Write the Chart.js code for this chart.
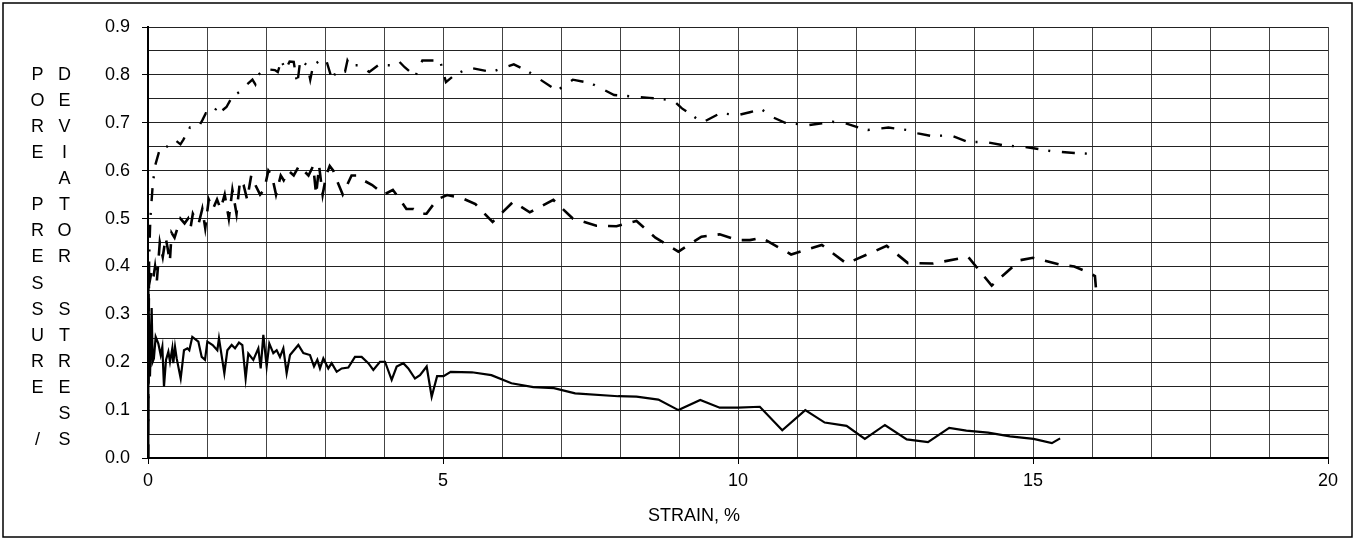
<!DOCTYPE html>
<html>
<head>
<meta charset="utf-8">
<script src="https://cdn.jsdelivr.net/npm/chart.js@4.4.1/dist/chart.umd.min.js"></script>
<style>
  html, body { margin: 0; padding: 0; background: #fff; }
  #wrap { width: 1355px; height: 540px; position: relative; }
</style>
</head>
<body>
<div id="wrap"><canvas id="c" width="1355" height="540"></canvas></div>
<script>
// Axis ranges and tick spacing
const xMin = 0, xMax = 20, xGridStep = 1, xLabelEvery = 5;
const yMin = 0, yMax = 0.9, yGridStep = 0.05, yLabelEvery = 0.1;

// Axis titles
const xTitle = 'STRAIN, %';
const yTitleLeft = ['P','O','R','E','','P','R','E','S','S','U','R','E','','/'];
const yTitleRight = ['D','E','V','I','A','T','O','R','','S','T','R','E','S','S'];

// Dash-dot curve (upper)
const strainDashDot = [0, 0.02, 0.04, 0.08, 0.12, 0.2, 0.32, 0.45, 0.55, 0.6, 0.71, 0.85, 0.92, 0.98, 1.1, 1.2, 1.25, 1.33, 1.43, 1.56, 1.67, 1.77, 1.82, 1.87, 1.98, 2.15, 2.2, 2.26, 2.33, 2.4, 2.47, 2.53, 2.58, 2.7, 2.75, 2.8, 2.97, 3.03, 3.12, 3.2, 3.34, 3.38, 3.42, 3.6, 3.75, 3.9, 4.1, 4.24, 4.35, 4.53, 4.65, 4.75, 4.95, 5.05, 5.2, 5.45, 5.82, 6.2, 6.42, 6.93, 7.2, 7.5, 7.9, 8.5, 8.9, 9.05, 9.24, 9.39, 9.7, 10.0, 10.2, 10.4, 10.58, 10.8, 11.19, 11.6, 11.8, 12.05, 12.2, 12.55, 12.86, 13.05, 13.29, 13.6, 13.9, 14.2, 14.5, 14.9, 15.3, 15.7, 15.99];
const stressDashDot = [0, 0.42, 0.50, 0.57, 0.61, 0.645, 0.65, 0.665, 0.655, 0.665, 0.69, 0.69, 0.705, 0.72, 0.72, 0.737, 0.725, 0.733, 0.755, 0.765, 0.779, 0.79, 0.78, 0.80, 0.812, 0.81, 0.806, 0.83, 0.81, 0.828, 0.827, 0.78, 0.83, 0.82, 0.79, 0.82, 0.835, 0.827, 0.79, 0.81, 0.807, 0.83, 0.82, 0.82, 0.806, 0.82, 0.82, 0.83, 0.816, 0.797, 0.83, 0.83, 0.83, 0.785, 0.80, 0.815, 0.806, 0.822, 0.809, 0.767, 0.79, 0.783, 0.758, 0.752, 0.747, 0.73, 0.714, 0.70, 0.72, 0.716, 0.722, 0.728, 0.712, 0.70, 0.695, 0.702, 0.70, 0.69, 0.685, 0.69, 0.685, 0.678, 0.672, 0.674, 0.66, 0.66, 0.653, 0.649, 0.641, 0.637, 0.635];

// Dashed curve (middle)
const strainDashed = [0, 0.01, 0.03, 0.06, 0.09, 0.12, 0.15, 0.2, 0.25, 0.3, 0.33, 0.37, 0.4, 0.45, 0.5, 0.55, 0.62, 0.68, 0.72, 0.76, 0.8, 0.86, 0.92, 0.97, 1.03, 1.1, 1.17, 1.23, 1.3, 1.37, 1.43, 1.5, 1.56, 1.62, 1.68, 1.75, 1.82, 1.9, 1.97, 2.04, 2.1, 2.17, 2.25, 2.3, 2.38, 2.47, 2.56, 2.64, 2.72, 2.8, 2.85, 2.9, 2.96, 3.02, 3.08, 3.14, 3.2, 3.3, 3.45, 3.55, 3.65, 3.8, 4.0, 4.15, 4.27, 4.38, 4.5, 4.62, 4.72, 4.9, 5.07, 5.32, 5.55, 5.84, 6.19, 6.47, 6.87, 7.2, 7.6, 7.94, 8.28, 8.6, 8.99, 9.38, 9.69, 10.0, 10.2, 10.4, 10.9, 11.42, 11.84, 12.52, 12.88, 13.3, 13.9, 14.3, 14.78, 15.0, 15.49, 15.7, 15.91, 16.05, 16.07];
const stressDashed = [0, 0.40, 0.37, 0.39, 0.375, 0.40, 0.37, 0.45, 0.42, 0.46, 0.44, 0.41, 0.47, 0.46, 0.48, 0.50, 0.49, 0.50, 0.48, 0.51, 0.50, 0.49, 0.52, 0.48, 0.54, 0.52, 0.54, 0.52, 0.55, 0.50, 0.56, 0.51, 0.58, 0.57, 0.54, 0.59, 0.57, 0.55, 0.56, 0.60, 0.59, 0.55, 0.59, 0.58, 0.60, 0.59, 0.61, 0.60, 0.59, 0.61, 0.55, 0.61, 0.55, 0.59, 0.61, 0.60, 0.58, 0.55, 0.59, 0.59, 0.58, 0.57, 0.55, 0.56, 0.54, 0.52, 0.52, 0.51, 0.51, 0.54, 0.549, 0.543, 0.53, 0.493, 0.535, 0.513, 0.539, 0.50, 0.485, 0.484, 0.495, 0.46, 0.431, 0.462, 0.467, 0.455, 0.455, 0.46, 0.425, 0.445, 0.406, 0.443, 0.407, 0.406, 0.42, 0.36, 0.413, 0.418, 0.403, 0.40, 0.389, 0.38, 0.35];

// Solid curve (lower)
const strainSolid = [0, 0.006, 0.034, 0.062, 0.079, 0.10, 0.13, 0.175, 0.215, 0.243, 0.271, 0.305, 0.345, 0.373, 0.412, 0.429, 0.458, 0.486, 0.554, 0.61, 0.667, 0.70, 0.751, 0.853, 0.91, 0.966, 1.006, 1.096, 1.175, 1.203, 1.294, 1.345, 1.418, 1.475, 1.542, 1.599, 1.655, 1.70, 1.785, 1.87, 1.91, 1.955, 2.011, 2.056, 2.124, 2.181, 2.237, 2.294, 2.35, 2.407, 2.548, 2.633, 2.746, 2.814, 2.87, 2.915, 2.972, 3.056, 3.113, 3.198, 3.283, 3.395, 3.508, 3.621, 3.734, 3.819, 3.932, 4.017, 4.13, 4.215, 4.327, 4.412, 4.525, 4.61, 4.723, 4.808, 4.90, 5.01, 5.13, 5.49, 5.82, 6.16, 6.53, 6.88, 7.24, 7.97, 8.28, 8.65, 8.99, 9.36, 9.69, 10.0, 10.37, 10.75, 11.14, 11.47, 11.84, 12.15, 12.49, 12.86, 13.22, 13.58, 13.87, 14.24, 14.61, 15.01, 15.32, 15.46];
const valueSolid = [0, 0.354, 0.17, 0.313, 0.201, 0.208, 0.253, 0.239, 0.215, 0.232, 0.149, 0.205, 0.222, 0.201, 0.229, 0.198, 0.232, 0.208, 0.166, 0.225, 0.229, 0.225, 0.253, 0.243, 0.211, 0.205, 0.243, 0.236, 0.225, 0.25, 0.177, 0.225, 0.236, 0.229, 0.241, 0.236, 0.166, 0.218, 0.205, 0.229, 0.187, 0.257, 0.191, 0.239, 0.219, 0.225, 0.211, 0.229, 0.177, 0.215, 0.236, 0.219, 0.215, 0.191, 0.205, 0.187, 0.208, 0.187, 0.198, 0.18, 0.187, 0.189, 0.211, 0.211, 0.198, 0.184, 0.201, 0.201, 0.163, 0.191, 0.198, 0.187, 0.166, 0.173, 0.191, 0.128, 0.171, 0.171, 0.18, 0.179, 0.173, 0.156, 0.148, 0.146, 0.135, 0.129, 0.128, 0.122, 0.10, 0.121, 0.105, 0.105, 0.107, 0.058, 0.10, 0.074, 0.067, 0.04, 0.069, 0.039, 0.033, 0.063, 0.057, 0.053, 0.045, 0.04, 0.031, 0.041];

const pts = (xs, ys) => xs.map((x, i) => ({ x: x, y: ys[i] }));
const FONT = '"Liberation Sans", Arial, sans-serif';
const isMult = (v, step) => Math.abs(v / step - Math.round(v / step)) < 1e-6;

// Frame, axis titles and the stacked vertical y title
const decorations = {
  id: 'decorations',
  beforeDraw(chart) {
    const ctx = chart.ctx;
    ctx.save();
    ctx.fillStyle = '#fff';
    ctx.fillRect(0, 0, chart.width, chart.height);
    ctx.restore();
  },
  afterDraw(chart) {
    const ctx = chart.ctx;
    ctx.save();
    ctx.strokeStyle = '#000';
    ctx.lineWidth = 1.5;
    ctx.strokeRect(3, 3, chart.width - 6, chart.height - 6);

    ctx.fillStyle = '#000';
    ctx.textAlign = 'center';
    ctx.textBaseline = 'middle';
    ctx.font = '18px ' + FONT;
    ctx.fillText(xTitle, 694, 516);

    const rowStep = 26.07, top = 75;
    yTitleLeft.forEach((ch, i) => { if (ch) ctx.fillText(ch, 37.5, top + i * rowStep); });
    yTitleRight.forEach((ch, i) => { if (ch) ctx.fillText(ch, 64.5, top + i * rowStep); });
    ctx.restore();
  }
};

new Chart(document.getElementById('c'), {
  type: 'line',
  data: {
    datasets: [
      {
        data: pts(strainDashDot, stressDashDot),
        borderColor: '#000', borderWidth: 2.4,
        borderDash: [13, 10, 2, 11.7],
        pointRadius: 0, tension: 0, fill: false
      },
      {
        data: pts(strainDashed, stressDashed),
        borderColor: '#000', borderWidth: 2.6,
        borderDash: [14, 11],
        pointRadius: 0, tension: 0, fill: false
      },
      {
        data: pts(strainSolid, valueSolid),
        borderColor: '#000', borderWidth: 2.2,
        pointRadius: 0, tension: 0, fill: false
      }
    ]
  },
  options: {
    responsive: false,
    animation: false,
    devicePixelRatio: 1,
    layout: { padding: { left: 0, right: 27, top: 27, bottom: 0 } },
    plugins: { legend: { display: false }, tooltip: { enabled: false } },
    scales: {
      x: {
        type: 'linear', min: xMin, max: xMax,
        afterFit(s) { s.height = 82; },
        border: { display: true, color: '#000', width: 2 },
        grid: {
          color: '#444', lineWidth: 1, drawTicks: true, tickLength: 6,
          tickColor: c => isMult(c.tick.value, xLabelEvery) ? '#000' : 'rgba(0,0,0,0)'
        },
        ticks: {
          stepSize: xGridStep, autoSkip: false, maxRotation: 0, padding: 6,
          color: '#000', font: { family: FONT, size: 18 },
          callback: v => isMult(v, xLabelEvery) ? String(v) : ''
        }
      },
      y: {
        type: 'linear', min: yMin, max: yMax,
        afterFit(s) { s.width = 148; },
        border: { display: true, color: '#000', width: 2 },
        grid: {
          color: '#222', lineWidth: 1, drawTicks: true, tickLength: 6,
          tickColor: c => isMult(c.tick.value, yLabelEvery) ? '#000' : 'rgba(0,0,0,0)'
        },
        ticks: {
          stepSize: yGridStep, autoSkip: false, padding: 12,
          color: '#000', font: { family: FONT, size: 18 },
          callback: v => isMult(v, yLabelEvery) ? v.toFixed(1) : ''
        }
      }
    }
  },
  plugins: [decorations]
});
</script>
</body>
</html>
